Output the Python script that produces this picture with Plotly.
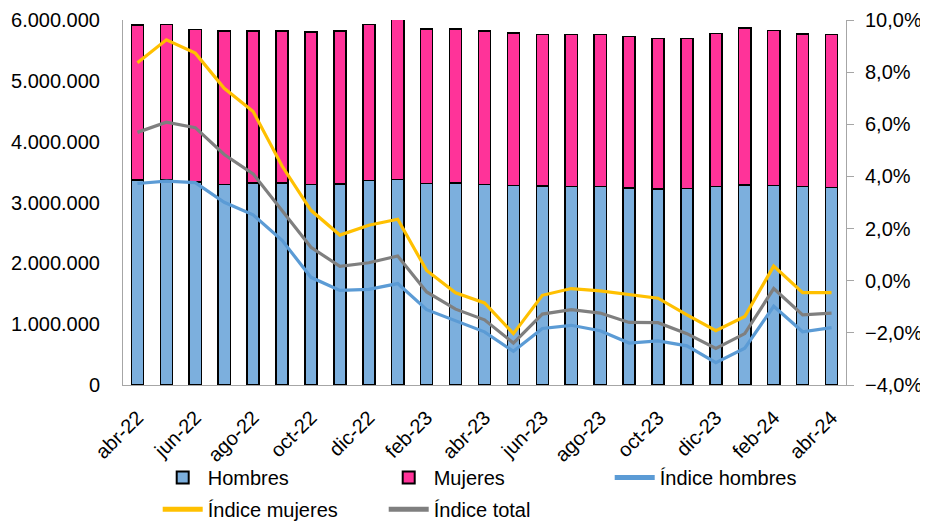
import plotly.graph_objects as go

months = ["abr-22", "may-22", "jun-22", "jul-22", "ago-22", "sep-22", "oct-22", "nov-22",
          "dic-22", "ene-23", "feb-23", "mar-23", "abr-23", "may-23", "jun-23", "jul-23",
          "ago-23", "sep-23", "oct-23", "nov-23", "dic-23", "ene-24", "feb-24", "mar-24", "abr-24"]
tick_months = months[::2]

hombres = [3366000, 3378000, 3340000, 3300000, 3320000, 3320000, 3295000, 3305000, 3360000,
           3380000, 3310000, 3320000, 3300000, 3280000, 3270000, 3260000, 3260000, 3240000,
           3220000, 3230000, 3260000, 3290000, 3280000, 3260000, 3250000]
mujeres = [2554000, 2552000, 2500000, 2520000, 2500000, 2500000, 2505000, 2515000, 2570000,
           2640000, 2540000, 2530000, 2520000, 2510000, 2490000, 2500000, 2500000, 2490000,
           2480000, 2470000, 2520000, 2580000, 2550000, 2510000, 2510000]

indice_hombres = [3.73, 3.82, 3.76, 3.01, 2.53, 1.55, 0.13, -0.37, -0.33, -0.11, -1.11, -1.53,
                  -1.96, -2.71, -1.83, -1.71, -1.92, -2.39, -2.31, -2.50, -3.14, -2.59, -0.98,
                  -1.96, -1.80]
indice_mujeres = [8.36, 9.24, 8.73, 7.38, 6.49, 4.40, 2.70, 1.75, 2.13, 2.36, 0.39, -0.46,
                  -0.85, -2.03, -0.56, -0.30, -0.39, -0.54, -0.67, -1.31, -1.92, -1.37, 0.56,
                  -0.46, -0.46]
indice_total = [5.69, 6.08, 5.87, 4.84, 4.10, 2.70, 1.28, 0.55, 0.69, 0.95, -0.43, -1.09,
                -1.50, -2.39, -1.28, -1.11, -1.24, -1.60, -1.61, -2.03, -2.60, -2.03, -0.30,
                -1.31, -1.24]

FONT = "Liberation Sans, Arial, sans-serif"
AXIS_GRAY = "#A6A6A6"

fig = go.Figure()
fig.add_trace(go.Bar(x=months, y=hombres, name="Hombres",
                     marker=dict(color="#7CAFDD", line=dict(color="black", width=1.5)),
                     legend="legend"))
fig.add_trace(go.Bar(x=months, y=mujeres, name="Mujeres",
                     marker=dict(color="#FF3399", line=dict(color="black", width=1.5)),
                     legend="legend"))
fig.add_trace(go.Scatter(x=months, y=indice_hombres, name="Índice hombres", yaxis="y2",
                         mode="lines", line=dict(color="#5B9BD5", width=3.2),
                         legend="legend"))
fig.add_trace(go.Scatter(x=months, y=indice_mujeres, name="Índice mujeres", yaxis="y2",
                         mode="lines", line=dict(color="#FFC000", width=3.2),
                         legend="legend2"))
fig.add_trace(go.Scatter(x=months, y=indice_total, name="Índice total", yaxis="y2",
                         mode="lines", line=dict(color="#7F7F7F", width=3.2),
                         legend="legend2"))

legend_common = dict(orientation="h", xanchor="left", yanchor="top",
                     font=dict(family=FONT, size=20, color="black"),
                     entrywidth=171, entrywidthmode="pixels", traceorder="normal",
                     bgcolor="rgba(0,0,0,0)", itemsizing="constant", itemwidth=40)

# The page body adds an 8 px margin, so the figure is sized to fit the rest of the window.
fig.update_layout(
    width=920, height=514,
    margin=dict(l=115, r=82, t=12, b=137, autoexpand=False),
    paper_bgcolor="white", plot_bgcolor="white",
    separators=",.",
    barmode="stack", bargap=0.58,
    font=dict(family=FONT, size=20, color="black"),
    xaxis=dict(type="category", categoryorder="array", categoryarray=months,
               tickvals=tick_months, ticktext=tick_months, tickangle=-45,
               showline=True, linecolor=AXIS_GRAY, linewidth=1, ticks="",
               showgrid=False, automargin=False, tickfont=dict(size=20),
               ticklabelstandoff=12),
    yaxis=dict(range=[0, 6000000], dtick=1000000, tickformat=",d",
               showline=True, linecolor=AXIS_GRAY, linewidth=1, ticks="",
               showgrid=False, zeroline=False, automargin=False,
               ticklabelstandoff=18, tickfont=dict(size=20)),
    yaxis2=dict(range=[-4, 10], dtick=2, tickformat=".1f", ticksuffix="%",
                overlaying="y", side="right",
                showline=True, linecolor=AXIS_GRAY, linewidth=1,
                ticks="outside", ticklen=7, tickcolor=AXIS_GRAY,
                showgrid=False, zeroline=False, automargin=False,
                ticklabelstandoff=7, tickfont=dict(size=20)),
    legend=dict(x=0.048, y=-0.2, **legend_common),
    legend2=dict(x=0.048, y=-0.287, **legend_common),
    showlegend=True,
)

fig.write_html("out.html")
